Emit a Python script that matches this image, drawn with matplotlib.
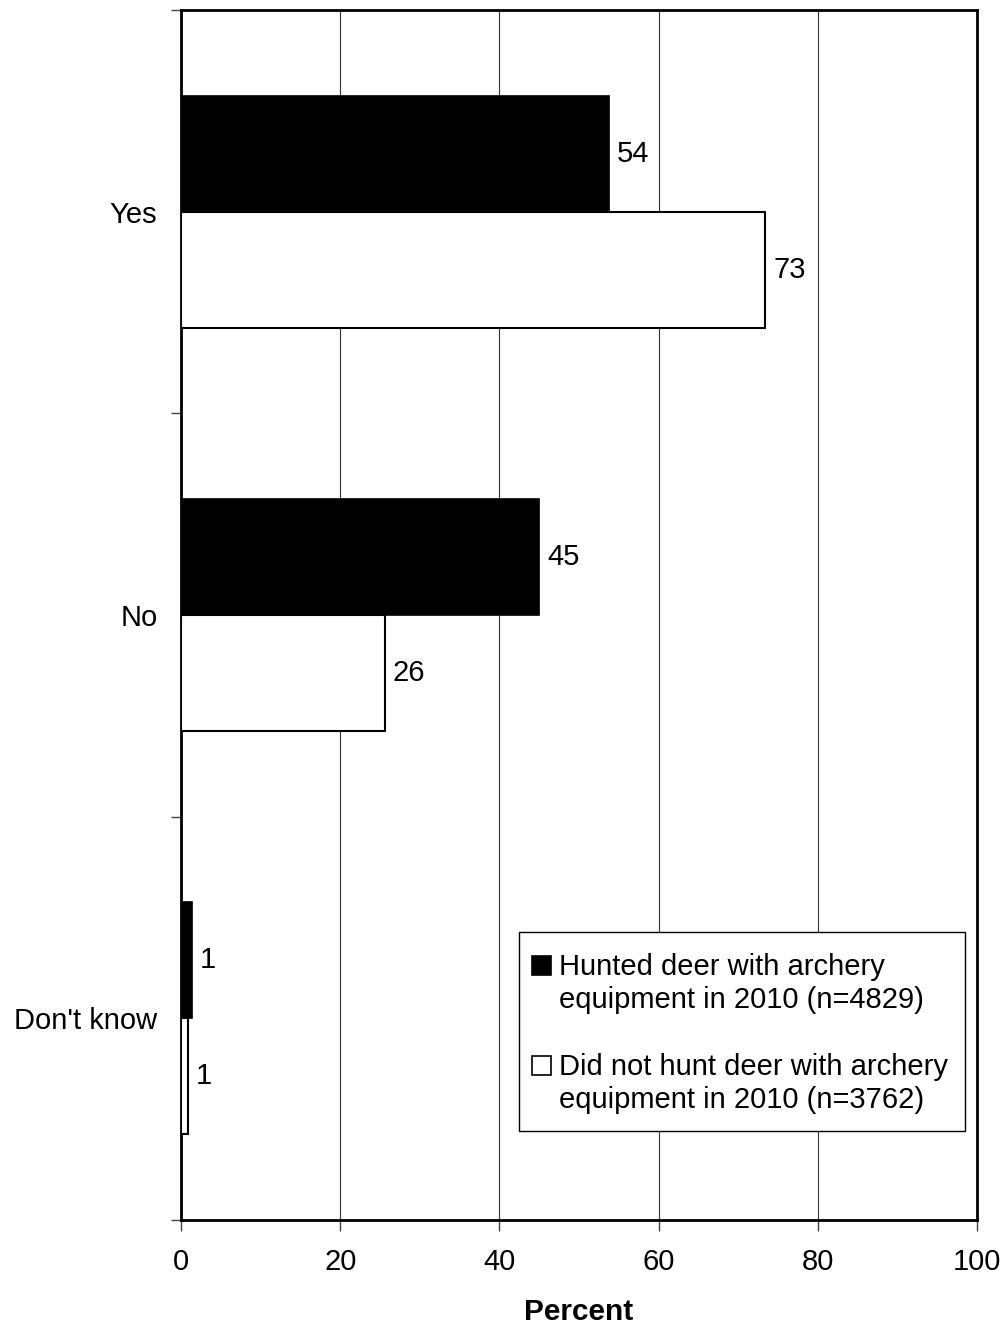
import matplotlib
matplotlib.use("Agg")
import matplotlib.pyplot as plt
from matplotlib.patches import Rectangle
import numpy as np

plt.rcParams['font.family'] = ['Liberation Sans', 'DejaVu Sans']

categories = ["Yes", "No", "Don't know"]
hunted = [53.8, 45.0, 1.4]
not_hunted = [73.4, 25.6, 0.9]
hunted_labels = ["54", "45", "1"]
not_hunted_labels = ["73", "26", "1"]
series_names = [["Hunted deer with archery", "equipment in 2010 (n=4829)"],
                ["Did not hunt deer with archery", "equipment in 2010 (n=3762)"]]
series_colors = ['black', 'white']
xticks = [0, 20, 40, 60, 80, 100]

FS = 21

W, H = 1008, 1330
AX_L, AX_R, AX_T, AX_B = 181, 977, 10, 1220

fig = plt.figure(figsize=(W / 100, H / 100), dpi=100)
ax = fig.add_axes([AX_L / W, 1 - AX_B / H, (AX_R - AX_L) / W, (AX_B - AX_T) / H])

y = np.arange(len(categories))
h = 0.288
ax.barh(y - h/2, hunted, height=h, color=series_colors[0], edgecolor='black', linewidth=1.2, zorder=3)
ax.barh(y + h/2, not_hunted, height=h, color=series_colors[1], edgecolor='black', linewidth=1.5, zorder=3)

for yi, v, lab in zip(y, hunted, hunted_labels):
    ax.text(v + 1.0, yi - h/2, lab, va='center', ha='left', fontsize=FS)
for yi, v, lab in zip(y, not_hunted, not_hunted_labels):
    ax.text(v + 1.0, yi + h/2, lab, va='center', ha='left', fontsize=FS)

ax.set_xlim(0, 100)
ax.set_ylim(2.5, -0.5)
ax.set_xticks(xticks)
ax.set_xticklabels([str(t) for t in xticks], fontsize=FS)
ax.tick_params(axis='x', length=8, width=1, direction='out', pad=12, color='#444444')

ax.set_yticks([-0.5, 0.5, 1.5, 2.5])
ax.set_yticklabels([])
ax.tick_params(axis='y', which='major', length=7, width=1, color='#444444')
ax.set_yticks(y, minor=True)
ax.set_yticklabels(categories, minor=True, fontsize=FS)
ax.tick_params(axis='y', which='minor', length=0, pad=17)

ax.grid(axis='x', color='#333333', linewidth=0.8, zorder=0)
for s in ax.spines.values():
    s.set_linewidth(2)
    s.set_color('black')

ax.set_xlabel('Percent', fontsize=FS + 0.5, fontweight='bold', labelpad=16)


# ---- legend (drawn manually for exact layout) ----
def ax_xy(px, py):
    return (px - AX_L) / (AX_R - AX_L), (AX_B - py) / (AX_B - AX_T)


def ax_wh(pw, ph):
    return pw / (AX_R - AX_L), ph / (AX_B - AX_T)


bx, by = ax_xy(519, 1131)
bw, bh = ax_wh(965 - 519, 1131 - 932)
ax.add_patch(Rectangle((bx, by), bw, bh, transform=ax.transAxes, facecolor='white',
                       edgecolor='black', linewidth=1.0, zorder=5, clip_on=False))

entry_baselines = [975, 1075]
line_gap = 33
for (l1, l2), col, base in zip(series_names, series_colors, entry_baselines):
    sx, sy = ax_xy(532, base)
    sw, sh = ax_wh(19, 19)
    ax.add_patch(Rectangle((sx, sy), sw, sh, transform=ax.transAxes, facecolor=col,
                           edgecolor='black', linewidth=1.2, zorder=6, clip_on=False))
    tx, ty1 = ax_xy(559, base)
    _, ty2 = ax_xy(559, base + line_gap)
    ax.text(tx, ty1, l1, transform=ax.transAxes, fontsize=FS, va='baseline', ha='left', zorder=7)
    ax.text(tx, ty2, l2, transform=ax.transAxes, fontsize=FS, va='baseline', ha='left', zorder=7)

fig.savefig('out.png', dpi=100, facecolor='white')
